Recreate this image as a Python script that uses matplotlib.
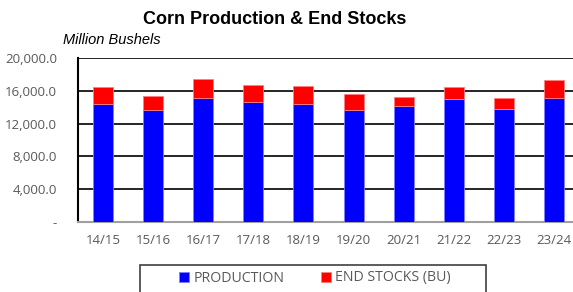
import matplotlib.pyplot as plt
import numpy as np
from matplotlib.patches import Rectangle

# values (million bushels)
years = ['14/15', '15/16', '16/17', '17/18', '18/19', '19/20', '20/21', '21/22', '22/23', '23/24']
production = [14430, 13620, 15160, 14600, 14350, 13620, 14180, 15040, 13740, 15120]
total = [16430, 15330, 17440, 16740, 16550, 15570, 15240, 16500, 15090, 17350]
end_stocks = [t - p for t, p in zip(total, production)]

yticks = [0, 4000, 8000, 12000, 16000, 20000]
ytick_labels = ['-', '4,000.0', '8,000.0', '12,000.0', '16,000.0', '20,000.0']

plt.rcParams['font.family'] = ['Open Sans', 'DejaVu Sans']

fig = plt.figure(figsize=(5.73, 2.92), dpi=100)
ax = fig.add_axes([78 / 573, 70 / 292, 501 / 573, 164 / 292])

x = np.arange(len(years))
ax.bar(x, production, width=0.4, color='#0000ff', edgecolor='#8080ff', linewidth=0.6,
       label='PRODUCTION', zorder=3)
ax.bar(x, end_stocks, bottom=production, width=0.4, color='#ff0000', edgecolor='#ff8080',
       linewidth=0.6, label='END STOCKS (BU)', zorder=3)

ax.set_xlim(-0.5, len(years) - 0.5)
ax.set_ylim(0, 20000)
ax.set_yticks(yticks)
ax.set_yticklabels(ytick_labels, color='#595959', fontsize=9.5)
ax.set_xticks(x)
ax.set_xticklabels(years, color='#595959', fontsize=9.5)
ax.tick_params(axis='y', length=0, pad=15)
ax.tick_params(axis='x', length=0, pad=9)
ax.grid(axis='y', color='black', linewidth=1.2, zorder=0)

for side in ['top', 'right']:
    ax.spines[side].set_visible(False)
ax.spines['left'].set_color('black')
ax.spines['left'].set_linewidth(1.5)
ax.spines['bottom'].set_color('#a0a0a0')
ax.spines['bottom'].set_linewidth(1.5)

fig.text(275 / 573, 1 - 19 / 292, 'Corn Production & End Stocks', ha='center', va='center',
         fontsize=13, fontweight='bold', family='Liberation Sans')
fig.text(63 / 573, 1 - 40 / 292, 'Million Bushels', ha='left', va='center',
         fontsize=10.5, style='italic', family='Liberation Sans')

# legend box
fig.patches.append(Rectangle((140 / 573, -10 / 292), 346 / 573, 37 / 292,
                             transform=fig.transFigure, fill=False,
                             edgecolor='#404040', linewidth=1.2))
fig.legend(loc='center', bbox_to_anchor=(315 / 573, 1 - 278 / 292), ncol=2,
           frameon=False, fontsize=10.2, handlelength=0.7, handleheight=0.7,
           handletextpad=0.3, columnspacing=2.6, labelcolor='#595959')

fig.savefig('out.png', dpi=100)
